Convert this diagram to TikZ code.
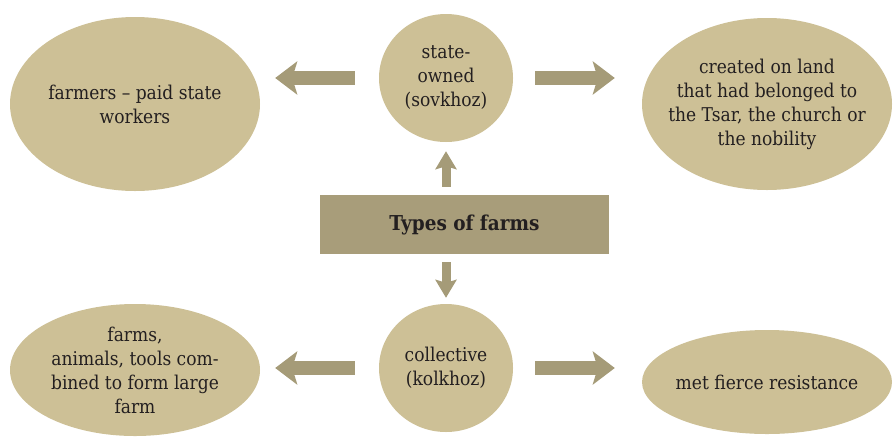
\documentclass[tikz,border=0pt]{standalone}
\usepackage{fontspec}
\setmainfont{DejaVu Serif}[FakeStretch=0.9]
\usetikzlibrary{positioning, arrows.meta, shapes.geometric}
\definecolor{farmtan}{HTML}{CDC096}
\definecolor{farmdark}{HTML}{A89D7A}
\definecolor{farmarrow}{HTML}{A59B78}
\definecolor{farmtext}{HTML}{231F20}

\begin{document}
\begin{tikzpicture}[x=1pt, y=-1pt,
        bubble/.style={ellipse, fill=farmtan, inner sep=-20pt, align=center, text=farmtext, font=\fontsize{19}{24}\selectfont},
        hub/.style={bubble, minimum width=134pt, minimum height=128pt},
        bigarrow/.style={draw=farmarrow, line width=14pt, -{Stealth[length=22pt, width=33pt, inset=5pt]}},
        smallarrow/.style={draw=farmarrow, line width=9pt, -{Stealth[length=18pt, width=21pt, inset=3pt]}}]
      \useasboundingbox (0,0) rectangle (893,437);
      % Nodes
      \node[fill=farmdark, minimum width=289pt, minimum height=59pt, text=farmtext, font=\fontsize{20.5}{24}\selectfont\bfseries] (types) at (464.5,224.5) {Types of farms};
      \node[hub] (sov) at (446,78) {state-\\owned\\(sovkhoz)};
      \node[hub] (kol) at (446,368) {collective\\(kolkhoz)};
      \node[bubble, minimum width=250pt, minimum height=174pt] (workers) at (135,104) {farmers -- paid state\\workers};
      \node[bubble, minimum width=250pt, minimum height=172pt] (land) at (767,104) {created on land\\that had belonged to\\the Tsar, the church or\\the nobility};
      \node[bubble, minimum width=250pt, minimum height=132pt] (combined) at (135,370) {farms,\\animals, tools com-\\bined to form large\\farm};
      \node[bubble, minimum width=250pt, minimum height=104pt] (resist) at (767,382) {met fierce resistance};

      % Edges
      \draw[smallarrow, shorten <=8pt, shorten >=9pt] (sov.south |- types.north) -- (sov.south);
      \draw[smallarrow, shorten <=8pt, shorten >=6pt] (kol.north |- types.south) -- (kol.north);
      \draw[bigarrow, shorten <=24pt, shorten >=15pt] (sov.west) -- (sov.west -| workers.east);
      \draw[bigarrow, shorten <=22pt, shorten >=27pt] (sov.east) -- (sov.east -| land.west);
      \draw[bigarrow, shorten <=24pt, shorten >=15pt] (kol.west) -- (kol.west -| combined.east);
      \draw[bigarrow, shorten <=22pt, shorten >=27pt] (kol.east) -- (kol.east -| resist.west);
    \end{tikzpicture}
\end{document}
